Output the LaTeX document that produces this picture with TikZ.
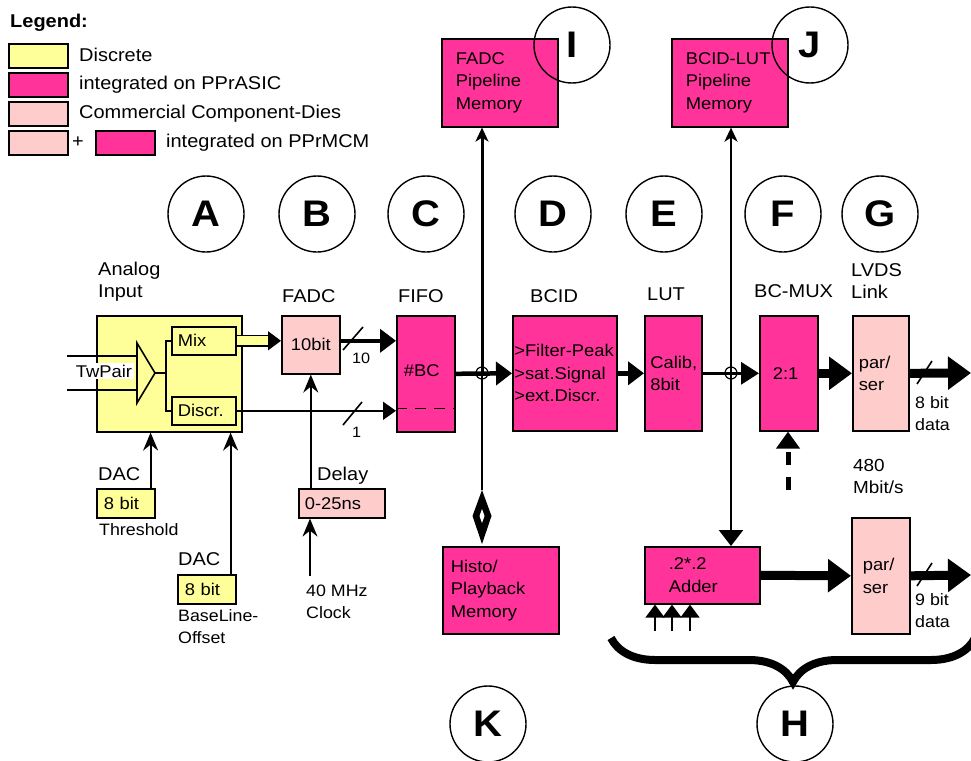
\documentclass[tikz,border=0pt]{standalone}
\usepackage{fontspec}
\setmainfont{Liberation Sans}[FakeStretch=1.08]
\usetikzlibrary{arrows.meta,positioning,decorations.pathreplacing}
\definecolor{discyellow}{HTML}{FFFF99}
\definecolor{asicpink}{HTML}{FF3399}
\definecolor{dieskin}{HTML}{FFCCCC}
\newcommand{\boxfont}{\fontsize{17}{22.5}\selectfont}
\newcommand{\lblfont}{\fontsize{18.5}{22}\selectfont}
\newcommand{\notefont}{\fontsize{16.5}{21.5}\selectfont}
\newcommand{\markfont}{\fontsize{37}{37}\selectfont\bfseries}
\tikzset{
  block/.style={draw=black,line width=1.6pt,inner sep=0pt,anchor=north west,font=\boxfont},
  discrete/.style={block,fill=discyellow},
  asic/.style={block,fill=asicpink},
  diebox/.style={block,fill=dieskin},
  legendbox/.style={draw=black,line width=1.6pt,anchor=north west,
    minimum width=59pt,minimum height=24pt,inner sep=0pt},
  caption/.style={anchor=base west,inner sep=0pt,font=\lblfont,align=left},
  note/.style={caption,font=\notefont},
  marker/.style={circle,draw=black,line width=1.4pt,minimum size=76pt,inner sep=0pt,font=\markfont},
  wire/.style={line width=1.6pt},
  thinarrow/.style={line width=1.6pt,-{Triangle[length=13pt,width=18pt]}},
  busarrow/.style={line width=4.5pt,-{Triangle[length=16pt,width=23pt]}},
  linkarrow/.style={line width=9pt,-{Triangle[length=23pt,width=32pt]}},
  ctrlarrow/.style={line width=1.8pt,-{Stealth[length=18pt,width=15pt,inset=6pt]}},
  band/.style={line width=1.3pt,double=discyellow,double distance=9pt,-{Triangle[length=13pt,width=19pt]}},
  tap/.style={circle,draw=black,line width=1.2pt,minimum size=12pt,inner sep=0pt}
}
\begin{document}
\begin{tikzpicture}[x=1pt,y=-1pt]
\useasboundingbox (0,0) rectangle (971,760);

% legend
\node[caption,font=\lblfont\bfseries] (legtitle) at (10,28) {Legend:};
\node[legendbox,fill=discyellow] (legdisc) at (8,43) {};
\node[caption] (legdisctxt) at (79,61) {Discrete};
\node[legendbox,fill=asicpink] (legasic) at (8,72) {};
\node[caption] (legasictxt) at (79,89) {integrated on PPrASIC};
\node[legendbox,fill=dieskin] (legdie) at (8,101) {};
\node[caption] (legdietxt) at (79,118) {Commercial Component-Dies};
\node[legendbox,fill=dieskin] (legmcma) at (8,130) {};
\node[caption] (legplus) at (72,147) {+};
\node[legendbox,fill=asicpink] (legmcmb) at (95,130) {};
\node[caption] (legmcmtxt) at (166,147) {integrated on PPrMCM};

% analog input
\node[discrete,minimum width=145pt,minimum height=116pt] (ana) at (96,315) {};
\node[discrete,minimum width=64pt,minimum height=28pt,text width=52pt,align=left] (mix) at (171,326) {Mix};
\node[discrete,minimum width=64pt,minimum height=28pt,text width=52pt,align=left] (discr) at (171,396) {Discr.};
\coordinate (ampin) at (137,373);
\coordinate (ampout) at (155,373);
\coordinate (inP) at (67,356);
\coordinate (inN) at (67,390);
\draw[wire] (inP) -- (inP -| ampin);
\draw[wire] (inN) -- (inN -| ampin);
\draw[wire,line join=miter] (137,343) -- (ampout) -- (137,403) -- cycle;
\draw[wire] (ampout) -- ++(11,0) coordinate (split);
\draw[wire] (mix.west) -| (split) |- (discr.west);
\node[fill=white,inner xsep=2pt,inner ysep=2pt,font=\boxfont] (twpair) at (104,371) {TwPair};
\node[caption] (analab) at (98,297) {Analog\\Input};

% DACs
\node[discrete,minimum width=58pt,minimum height=29pt,text width=44pt,align=left] (dacthr) at (96,488) {8 bit};
\node[discrete,minimum width=58pt,minimum height=29pt,text width=44pt,align=left] (dacbase) at (177,574) {8 bit};
\node[caption] (dac1lab) at (98,480) {DAC};
\node[note] (thrlab) at (99,535) {Threshold};
\node[caption] (dac2lab) at (178,565) {DAC};
\node[note] (baselab) at (178,643) {BaseLine-\\Offset};
\draw[ctrlarrow] ([xshift=-5pt]dacthr.north east) -- ([xshift=-5pt]dacthr.north east |- ana.south);
\draw[ctrlarrow] ([xshift=-6pt]dacbase.north east) -- ([xshift=-6pt]dacbase.north east |- ana.south);

% FADC and delay
\node[diebox,minimum width=58pt,minimum height=58pt,align=center] (fadc) at (281,315) {10bit};
\node[caption] (fadclab) at (282,302) {FADC};
\node[diebox,minimum width=86pt,minimum height=29pt,text width=74pt,align=left] (delay) at (298,488) {0-25ns};
\node[caption] (delaylab) at (317,480) {Delay};
\coordinate (clk) at (310,576);
\node[note] (clklab) at (306,618) {40 MHz\\Clock};
\draw[ctrlarrow] (fadc.south |- delay.north) -- (fadc.south);
\draw[ctrlarrow] (clk) -- (clk |- delay.south);

% FIFO
\node[asic,minimum width=58pt,minimum height=116pt,text width=44pt,align=left] (fifo) at (396,315) {\raisebox{6pt}{\#BC}};
\node[caption] (fifolab) at (398,302) {FIFO};
\draw[line width=1.6pt,dash pattern=on 11pt off 8pt] ([yshift=24pt]fifo.south west) -- ([yshift=24pt]fifo.south east);
\draw[band] (mix.east) -- (mix.east -| fadc.west);
\draw[busarrow] (fadc.east |- mix.east) -- (fifo.west |- mix.east);
\draw[thinarrow] (discr.east) -- (discr.east -| fifo.west);
\draw[wire] (343,350) -- (363,327);
\draw[wire] (343,425) -- (362,402);
\node[note,font=\fontsize{15}{18}\selectfont] (buslab) at (352,363) {10};
\node[note,font=\fontsize{15}{18}\selectfont] (bitlab) at (352,437) {1};

% BCID, LUT, MUX, link
\node[asic,minimum width=104pt,minimum height=115pt,text width=101pt,align=left] (bcid) at (512,315) {>Filter-Peak\\>sat.Signal\\>ext.Discr.};
\node[caption] (bcidlab) at (530,302) {BCID};
\node[asic,minimum width=57pt,minimum height=115pt,text width=46pt,align=left] (lut) at (644,315) {Calib,\\8bit};
\node[caption] (lutlab) at (647,300) {LUT};
\node[asic,minimum width=58pt,minimum height=115pt,text width=32pt,align=left] (mux) at (759,315) {2:1};
\node[caption] (muxlab) at (754,297) {BC-MUX};
\node[diebox,minimum width=56pt,minimum height=115pt,text width=44pt,align=left] (ser) at (852,315) {par/\\ser};
\node[caption] (lvdslab) at (851,298) {LVDS\\Link};
\node[note] (datalab) at (915,430) {8 bit\\data};
\node[note,font=\fontsize{17.5}{21.5}\selectfont] (ratelab) at (853,493) {480\\Mbit/s};
\coordinate (out1) at (971,373);
\coordinate (sel) at (788,490);
\draw[busarrow] (fifo.east) -- (bcid.west);
\draw[busarrow] (bcid.east) -- (lut.west);
\draw[line width=3.2pt,-{Triangle[length=18pt,width=22pt]}] (lut.east) -- (mux.west);
\draw[linkarrow] (mux.east) -- (ser.west);
\draw[linkarrow] (ser.east) -- (out1);
\draw[wire] (917,384) -- (932,361);
\draw[line width=5pt,dash pattern=on 13pt off 12pt,-{Triangle[length=17pt,width=23pt]}] (sel) -- (sel |- mux.south);

% memories
\node[asic,minimum width=116pt,minimum height=88pt,text width=88pt,align=left] (fadcmem) at (441,38) {FADC\\Pipeline\\Memory};
\node[asic,minimum width=116pt,minimum height=88pt,text width=88pt,align=left] (lutmem) at (671,38) {BCID-LUT\\Pipeline\\Memory};
\node[asic,minimum width=116pt,minimum height=87pt,text width=100pt,align=left] (histo) at (442,546) {Histo/\\Playback\\Memory};
\coordinate (tapA) at (482,373);
\coordinate (tapB) at (731,373);
\coordinate (histoin) at (482,490);
\draw[line width=3pt,-{Stealth[length=14pt,width=13pt,inset=4pt]}] (tapA) -- (tapA |- fadcmem.south);
\draw[wire] (tapA) -- (histoin);
\fill[black] (histoin) -- (491.5,516) -- (482,544) -- (472.5,516) -- cycle;
\fill[white] (482,509) -- (484.5,516) -- (482,523) -- (479.5,516) -- cycle;
\node[tap] (tapAring) at (tapA) {};
\draw[line width=2.6pt,-{Stealth[length=14pt,width=13pt,inset=4pt]}] (tapB) -- (tapB |- lutmem.south);

% adder and second link
\node[asic,minimum width=115pt,minimum height=57pt,text width=67pt,align=left] (adder) at (644,546) {.2*.2\\Adder};
\node[diebox,minimum width=58pt,minimum height=116pt,text width=36pt,align=left] (ser2) at (851,517) {par/\\ser};
\node[note] (data2lab) at (915,627) {9 bit\\data};
\coordinate (out2) at (971,575);
\draw[line width=2.6pt,-{Triangle[length=16pt,width=24pt]}] (tapB) -- (tapB |- adder.north);
\node[tap] (tapBring) at (tapB) {};
\draw[linkarrow] (adder.east) -- (ser2.west);
\draw[linkarrow] (ser2.east) -- (out2);
\draw[wire] (917,586) -- (932,563);
\foreach \xin in {655,672,690}
  \draw[line width=1.4pt,-{Triangle[length=13pt,width=19pt]}] (\xin,631) -- (\xin,631 |- adder.south);
\draw[line width=8pt,decorate,decoration={brace,amplitude=44pt}] (975,638) -- (611,638);

% stage markers
\node[marker] (markA) at (206,214) {A};
\node[marker] (markB) at (317,214) {B};
\node[marker] (markC) at (426,214) {C};
\node[marker] (markD) at (553,214) {D};
\node[marker] (markE) at (664,214) {E};
\node[marker] (markF) at (783,214) {F};
\node[marker] (markG) at (880,214) {G};
\node[marker] (markI) at (572,45) {I};
\node[marker] (markJ) at (810,45) {J};
\node[marker] (markK) at (488,724) {K};
\node[marker] (markH) at (795,724) {H};
\end{tikzpicture}
\end{document}
